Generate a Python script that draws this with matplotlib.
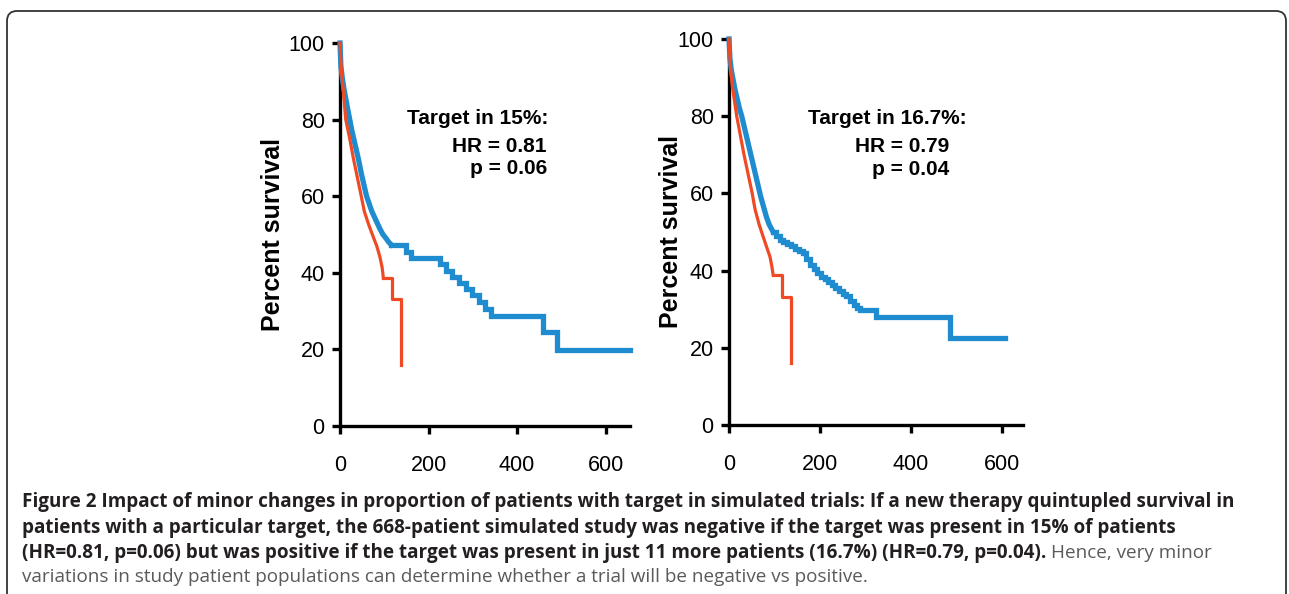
import numpy as np
import matplotlib
matplotlib.use("Agg")
import matplotlib.pyplot as plt
from matplotlib.patches import FancyBboxPatch
from matplotlib.transforms import IdentityTransform

# Kaplan-Meier curves (time, percent survival).
# "early" = dense part that looks like a smooth slope, "step" = visible steps
blue_left_early_t = [0, 2, 5, 9, 13, 17, 22, 27, 32, 37, 42, 48, 54, 60, 66, 72, 78, 84, 90, 97, 104, 110, 116]
blue_left_early_s = [100, 94, 91, 88, 85.5, 83, 80, 77, 74.5, 72, 69.5, 66, 63, 60, 58, 56, 54.5, 53, 51.5, 50, 49, 48, 47.3]
blue_left_step_t = [116, 150, 160, 226, 240, 254, 269, 284, 299, 314, 328, 342, 459, 489, 655]
blue_left_step_s = [47.3, 45.5, 43.8, 42.2, 40.6, 39, 37.4, 35.8, 34.1, 32.4, 30.6, 28.7, 24.6, 19.8, 19.8]
red_left_early_t = [0, 3, 7, 13, 22, 30, 39, 48, 55, 65, 75, 83, 90, 95, 98]
red_left_early_s = [100, 93, 88, 80, 75, 70, 65, 60, 56, 52.5, 49.4, 47, 44.2, 41.5, 38.6]
red_left_step_t = [98, 117, 137]
red_left_step_s = [38.6, 33.2, 16]

blue_right_early_t = [0, 2, 5, 9, 13, 18, 23, 28, 34, 40, 46, 52, 58, 64, 70, 76, 82, 88, 97]
blue_right_early_s = [100, 95, 92, 89.5, 87, 84.5, 82, 80, 77, 74, 71, 68, 65, 62, 59, 56.5, 54, 52, 50]
blue_right_step_t = [97, 104, 111, 118, 127, 136, 145, 154, 163, 170, 178, 186, 194, 202, 210, 218, 226,
                     234, 242, 250, 258, 266, 274, 281, 288, 324, 486, 606]
blue_right_step_s = [50, 49, 48, 47.5, 47, 46.3, 45.6, 45, 44.5, 43, 41.5, 40.5, 39.5, 38.3, 37.7, 37, 36.3,
                     35.5, 34.8, 34, 33.3, 32.2, 31, 30.4, 29.8, 28.1, 22.5, 22.5]
red_right_early_t = [0, 3, 7, 12, 17, 25, 33, 42, 51, 57, 66, 75, 83, 90, 94, 97]
red_right_early_s = [100, 93, 88, 84, 80, 75, 70, 65, 60, 56, 52, 48.8, 46, 43.6, 41.2, 38.9]
red_right_step_t = [97, 116, 136]
red_right_step_s = [38.9, 33.1, 16]

xticks = [0, 200, 400, 600]
yticks = [0, 20, 40, 60, 80, 100]
notes_left = ["Target in 15%:", "HR = 0.81", "p = 0.06"]
notes_right = ["Target in 16.7%:", "HR = 0.79", "p = 0.04"]

caption_bold = [
    "Figure 2 Impact of minor changes in proportion of patients with target in simulated trials: If a new therapy quintupled survival in",
    "patients with a particular target, the 668-patient simulated study was negative if the target was present in 15% of patients",
    "(HR=0.81, p=0.06) but was positive if the target was present in just 11 more patients (16.7%) (HR=0.79, p=0.04).",
]
caption_plain = ["Hence, very minor",
                 "variations in study patient populations can determine whether a trial will be negative vs positive."]

BLUE = "#1e8ccf"
RED = "#ef4a24"
W, H = 1289, 594

fig = plt.figure(figsize=(W / 100, H / 100), dpi=100)


def fx(px):
    return px / W


def fy(py):
    return 1 - py / H


arial = ["Liberation Sans", "DejaVu Sans"]


def panel(rect, xmax, blue, red, label_x):
    ax = fig.add_axes(rect)
    bet, bes, bst, bss = blue
    ret, res, rst, rss = red
    ax.plot(bet, bes, color=BLUE, lw=3.8, clip_on=False, solid_joinstyle="round", zorder=3)
    ax.plot(bst, bss, drawstyle="steps-post", color=BLUE, lw=3.8, clip_on=False,
            solid_joinstyle="miter", zorder=3)
    ax.plot(ret, res, color=RED, lw=2.3, clip_on=False, solid_joinstyle="round", zorder=4)
    ax.plot(rst, rss, drawstyle="steps-post", color=RED, lw=2.3, clip_on=False, zorder=4)
    ax.set_xlim(0, xmax)
    ax.set_ylim(0, 100)
    for s in ["top", "right"]:
        ax.spines[s].set_visible(False)
    for s in ["left", "bottom"]:
        ax.spines[s].set_linewidth(2.4)
        ax.spines[s].set_color("black")
    ax.set_xticks(xticks)
    ax.set_yticks(yticks)
    ax.tick_params(length=6, width=2.4, direction="out")
    ax.tick_params(axis="x", pad=15)
    ax.tick_params(axis="y", pad=5)
    for lab in ax.get_xticklabels() + ax.get_yticklabels():
        lab.set_family(arial)
        lab.set_fontsize(15.5)
    ax.set_ylabel("Percent survival", family=arial, fontsize=18, fontweight="bold")
    ax.yaxis.set_label_coords(label_x, 0.5)
    return ax


axl = panel([fx(340), fy(426), (630 - 340) / W, (426 - 43) / H], 655,
            (blue_left_early_t, blue_left_early_s, blue_left_step_t, blue_left_step_s),
            (red_left_early_t, red_left_early_s, red_left_step_t, red_left_step_s), -0.19)
axr = panel([fx(729), fy(425), (1023 - 729) / W, (425 - 39) / H], 646,
            (blue_right_early_t, blue_right_early_s, blue_right_step_t, blue_right_step_s),
            (red_right_early_t, red_right_early_s, red_right_step_t, red_right_step_s), -0.156)

note_kw = dict(family=arial, fontsize=15, fontweight="bold", va="center")
fig.text(fx(407), fy(119), notes_left[0], ha="left", **note_kw)
fig.text(fx(547), fy(146), notes_left[1], ha="right", **note_kw)
fig.text(fx(547), fy(169), notes_left[2], ha="right", **note_kw)
fig.text(fx(808), fy(119), notes_right[0], ha="left", **note_kw)
fig.text(fx(949), fy(147), notes_right[1], ha="right", **note_kw)
fig.text(fx(949), fy(170), notes_right[2], ha="right", **note_kw)

# caption
cap_kw = dict(family=["Open Sans", "DejaVu Sans"], fontsize=13.55, va="baseline", ha="left")
baselines = [507, 533, 558, 582]
bold_txt = []
for i, line in enumerate(caption_bold):
    bold_txt.append(fig.text(fx(22), fy(baselines[i]), line, fontweight="bold",
                             color="#231f20", **cap_kw))
fig.canvas.draw()
bb = bold_txt[2].get_window_extent()
fig.text((bb.x1 + 5) / W, fy(baselines[2]), caption_plain[0], color="#5a5a5a", **cap_kw)
fig.text(fx(22), fy(baselines[3]), caption_plain[1], color="#5a5a5a", **cap_kw)

# rounded frame around the figure
frame = FancyBboxPatch((7, -30), 1279, 594 - 11 + 30, boxstyle="round,pad=0,rounding_size=10",
                       transform=IdentityTransform(), fill=False, ec="#333333", lw=1.3)
fig.patches.append(frame)

fig.savefig("out.png", dpi=100)
